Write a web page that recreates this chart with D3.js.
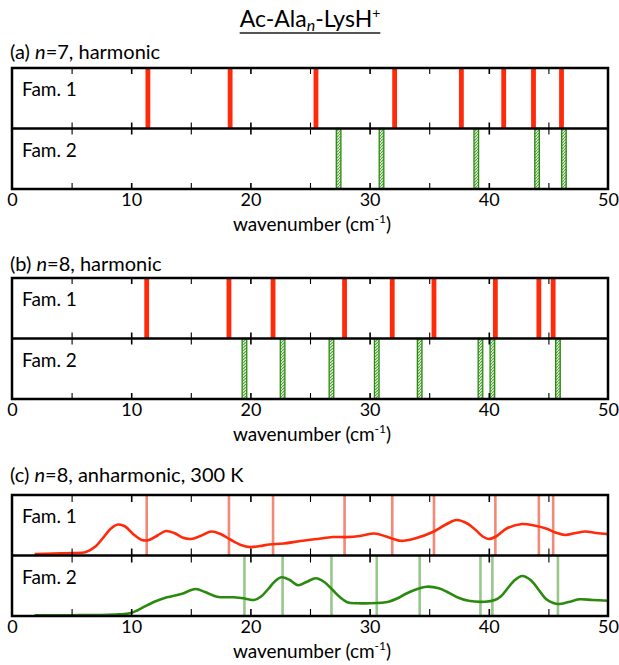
<!DOCTYPE html>
<html>
<head>
<meta charset="utf-8">
<script src="https://cdn.jsdelivr.net/npm/d3@7"></script>
<style>
  body { margin: 0; background: #fff; }
  text { font-family: Lato, "Open Sans", sans-serif; fill: #000; }
</style>
</head>
<body>
<svg width="619" height="665"></svg>
<script>
// data (wavenumber in cm-1)
var fam1N7 = [11.4, 18.3, 25.5, 32.1, 37.7, 41.25, 43.75, 46.1];
var fam2N7 = [27.4, 31.0, 38.95, 44.05, 46.3];
var fam1N8 = [11.3, 18.2, 21.9, 27.9, 31.9, 35.4, 40.55, 44.2, 45.4];
var fam2N8 = [19.5, 22.7, 26.8, 30.6, 34.2, 39.3, 40.3, 45.8];
var tickLabels = [0, 10, 20, 30, 40, 50];
var panelTitles = ["(a) ", "(b) ", "(c) "];
var panelN = ["7", "8", "8"];
var panelKinds = [", harmonic", ", harmonic", ", anharmonic, 300 K"];

// anharmonic spectra, [wavenumber, intensity]
var fam1Curve = [[1.9,1.4],[3.5,2],[5.0,2.4],[6.2,3.5],[7.0,9],[7.6,17],[8.3,27],[8.9,31],[9.5,29],[10.2,21],[10.9,15.5],[11.5,15.5],
  [12.2,20],[12.9,24.5],[13.6,22.5],[14.3,18],[15.0,16.5],[15.8,19.5],[16.7,24],[17.5,21.5],[18.3,16],[19.2,10.5],[20.0,8.4],
  [20.8,9.5],[21.6,11],[22.8,12],[24.2,14.5],[25.6,16.5],[26.9,18.5],[28.0,18.4],[29.2,19.5],[30.4,22],[31.4,19],[32.6,14.7],
  [33.8,17],[35.3,23.5],[36.4,31],[37.3,35.5],[38.2,32],[38.9,25.5],[39.5,19],[40.0,16.5],[40.6,19],[41.5,27],[42.8,31.5],
  [43.8,30],[44.8,27],[45.6,23],[46.4,20.5],[47.3,22.5],[48.1,24],[49.0,22.5],[50,21.4]];
var fam2Curve = [[1.9,0.7],[5,0.8],[7.5,1],[9.0,1.6],[9.9,2.7],[10.5,5.5],[11.1,9.3],[12.0,14.5],[13.0,18.7],[14.2,22],[15.4,27],
  [16.2,24],[17.2,19.3],[18.6,18.7],[19.4,17.7],[19.9,16.5],[20.3,16],[20.9,19.5],[21.5,27],[22.0,34],[22.6,38.7],[23.3,36],
  [24.0,30.7],[24.7,34],[25.5,37.7],[26.2,34],[26.9,26],[27.5,19],[28.2,13.5],[29.0,12.8],[30.0,12.7],[31.6,14.3],[32.3,17.5],
  [33.0,22],[34.0,27],[34.8,29.3],[35.8,27.7],[36.6,23.5],[37.4,18.5],[38.3,15.2],[39.7,14.3],[40.5,16],[41.0,19.5],[41.6,28],
  [42.1,35],[42.8,40],[43.5,36],[44.2,26],[44.8,17],[45.4,13],[45.9,12],[46.7,14],[47.6,16.7],[48.7,16],[50,15.3]];

var red = "#ff2a0a", green = "#2a8a10";
var svg = d3.select("svg");
var x = d3.scaleLinear().domain([0, 50]).range([12, 608]);
var subH = 60.5;

// hatch for the fam. 2 bars
var pat = svg.append("defs").append("pattern").attr("id", "hatch")
  .attr("patternUnits", "userSpaceOnUse").attr("width", 3).attr("height", 3);
pat.append("rect").attr("width", 3).attr("height", 3).attr("fill", "#e6f3df");
pat.append("path").attr("d", "M0,3 L3,0").attr("stroke", "#4aa030").attr("stroke-width", 1.1);

// title
var title = svg.append("text").attr("x", 310).attr("y", 27).attr("text-anchor", "middle").attr("font-size", "23px");
title.append("tspan").text("Ac-Ala");
title.append("tspan").attr("font-style", "italic").attr("font-size", "16px").attr("dy", 4).text("n");
title.append("tspan").attr("dy", -4).text("-LysH");
title.append("tspan").attr("font-size", "14px").attr("dy", -9).text("+");
var bb = title.node().getBBox();
svg.append("line").attr("x1", bb.x).attr("x2", bb.x + bb.width).attr("y1", 33).attr("y2", 33)
  .attr("stroke", "#555").attr("stroke-width", 2);

function panel(i, top, labelY, tickLen) {
  var g = svg.append("g");
  var y1 = d3.scaleLinear().domain([0, subH]).range([top + subH, top]);
  var y2 = d3.scaleLinear().domain([0, subH]).range([top + 2 * subH, top + subH]);

  var lab = g.append("text").attr("x", 10).attr("y", labelY).attr("font-size", "20px");
  lab.append("tspan").text(panelTitles[i]);
  lab.append("tspan").attr("font-style", "italic").text("n");
  lab.append("tspan").text("=" + panelN[i] + panelKinds[i]);

  g.append("text").attr("x", 22).attr("y", top + 28).attr("font-size", "19px").text("Fam. 1");
  g.append("text").attr("x", 22).attr("y", top + subH + 28).attr("font-size", "19px").text("Fam. 2");

  var fam1 = i == 0 ? fam1N7 : fam1N8;
  var fam2 = i == 0 ? fam2N7 : fam2N8;

  if (i < 2) {
    g.selectAll(".b1").data(fam1).enter().append("rect")
      .attr("x", function(d){ return x(d) - 2.4; }).attr("width", 4.8)
      .attr("y", y1(subH)).attr("height", subH).attr("fill", red);
    g.selectAll(".b2").data(fam2).enter().append("rect")
      .attr("x", function(d){ return x(d) - 2.3; }).attr("width", 4.6)
      .attr("y", y2(subH)).attr("height", subH)
      .attr("fill", "url(#hatch)").attr("stroke", green).attr("stroke-width", 1.3);
  } else {
    g.selectAll(".l1").data(fam1).enter().append("line")
      .attr("x1", x).attr("x2", x).attr("y1", y1(0)).attr("y2", y1(subH))
      .attr("stroke", "#f28878").attr("stroke-width", 2.6);
    g.selectAll(".l2").data(fam2).enter().append("line")
      .attr("x1", x).attr("x2", x).attr("y1", y2(0)).attr("y2", y2(subH))
      .attr("stroke", "#98c68c").attr("stroke-width", 2.6);
    g.append("path").datum(fam1Curve)
      .attr("d", d3.line().x(function(d){ return x(d[0]); }).y(function(d){ return y1(d[1]); }).curve(d3.curveCatmullRom))
      .attr("fill", "none").attr("stroke", red).attr("stroke-width", 2.6);
    g.append("path").datum(fam2Curve)
      .attr("d", d3.line().x(function(d){ return x(d[0]); }).y(function(d){ return y2(d[1]); }).curve(d3.curveCatmullRom))
      .attr("fill", "none").attr("stroke", green).attr("stroke-width", 2.6);
  }

  // inward ticks at top, both sides of the divider, bottom
  var tv = d3.range(5, 50, 5);
  [[top, tickLen], [top + subH, -tickLen], [top + subH, tickLen], [top + 2 * subH, -tickLen]].forEach(function(t) {
    var ax = g.append("g").attr("transform", "translate(0," + t[0] + ")")
      .call(d3.axisBottom(x).tickValues(tv).tickSize(t[1]).tickFormat(""));
    ax.select(".domain").remove();
    ax.selectAll("line").attr("stroke", "#000")
      .attr("stroke-width", function(d){ return d % 10 == 0 ? 1.6 : 1.1; });
  });

  // frame and divider
  g.append("rect").attr("x", x(0)).attr("y", top).attr("width", x(50) - x(0)).attr("height", 2 * subH)
    .attr("fill", "none").attr("stroke", "#000").attr("stroke-width", 2.5);
  g.append("line").attr("x1", x(0)).attr("x2", x(50)).attr("y1", top + subH).attr("y2", top + subH)
    .attr("stroke", "#000").attr("stroke-width", 2.5);

  var bottom = top + 2 * subH;
  var axb = g.append("g").attr("transform", "translate(0," + bottom + ")")
    .call(d3.axisBottom(x).tickValues(tickLabels).tickSize(0).tickPadding(4));
  axb.select(".domain").remove();
  axb.selectAll("text").attr("font-size", "18px").attr("font-family", "Lato, sans-serif").attr("fill", "#000");

  var xl = g.append("text").attr("x", 312).attr("y", bottom + 42).attr("text-anchor", "middle").attr("font-size", "19px");
  xl.append("tspan").text("wavenumber (cm");
  xl.append("tspan").attr("font-size", "12px").attr("dy", -8).text("-1");
  xl.append("tspan").attr("dy", 8).text(")");
}

panel(0, 68, 59, 6);
panel(1, 278, 271, 6);
panel(2, 495, 482, 7);
</script>
</body>
</html>
